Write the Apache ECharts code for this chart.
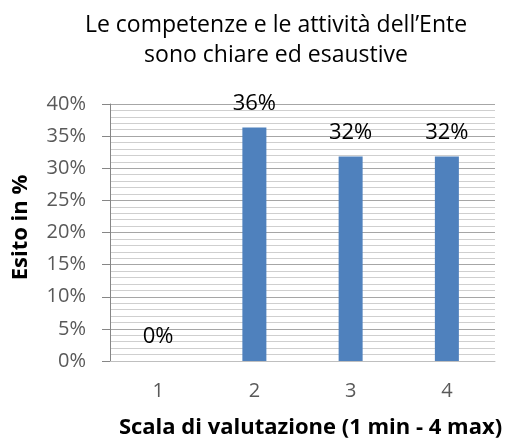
<!DOCTYPE html>
<html>
    <head>
        <meta charset="UTF-8">
        <title></title>
        <script type="text/javascript" src="https://cdn.jsdelivr.net/npm/echarts@6/dist/echarts.min.js"></script>
    </head>
    <body style="margin:0;">
        <div id="main" style="width: 511px;height:444px;"></div>
    </body>
</html>
<script type="text/javascript">
        // dati
        var categorie = ['1', '2', '3', '4'];
        var valori = [0, 36.36, 31.82, 31.82];
        var etichette = ['0%', '36%', '32%', '32%'];

        var myChart = echarts.init(document.getElementById('main'));
        var font = '"Open Sans", sans-serif';

        option = {
                animation: false,
                title: {
                        text: 'Le competenze e le attività dell\u2019Ente\nsono chiare ed esaustive',
                        left: 276,
                        top: 10,
                        padding: 0,
                        textAlign: 'center',
                        textStyle: {
                                fontFamily: font,
                                fontSize: 23,
                                fontWeight: 'normal',
                                color: '#000',
                                lineHeight: 30
                        }
                },
                grid: {
                        left: 110,
                        right: 16,
                        top: 104,
                        bottom: 82
                },
                xAxis: {
                        type: 'category',
                        data: categorie,
                        name: 'Scala di valutazione (1 min - 4 max)',
                        nameLocation: 'middle',
                        nameGap: 56,
                        nameTextStyle: {
                                fontFamily: font,
                                fontSize: 22,
                                fontWeight: 'bold',
                                color: '#000',
                                padding: [0, 0, 0, 16]
                        },
                        axisLine: {
                                lineStyle: { color: '#bfbfbf', width: 1 }
                        },
                        axisTick: { show: false },
                        axisLabel: {
                                margin: 20,
                                fontFamily: font,
                                fontSize: 20,
                                color: '#595959'
                        }
                },
                yAxis: {
                        type: 'value',
                        min: 0,
                        max: 40,
                        interval: 5,
                        name: 'Esito in %',
                        nameLocation: 'middle',
                        nameRotate: 90,
                        nameGap: 78,
                        nameTextStyle: {
                                fontFamily: font,
                                fontSize: 22,
                                fontWeight: 'bold',
                                color: '#000',
                                padding: [0, 0, 0, 10]
                        },
                        axisLine: {
                                show: true,
                                lineStyle: { color: '#868686', width: 1 }
                        },
                        axisTick: {
                                show: true,
                                length: 8,
                                lineStyle: { color: '#868686' }
                        },
                        axisLabel: {
                                margin: 24,
                                fontFamily: font,
                                fontSize: 20,
                                color: '#595959',
                                formatter: '{value}%'
                        },
                        splitLine: {
                                lineStyle: { color: '#a6a6a6', width: 1 }
                        },
                        minorTick: { show: false, splitNumber: 5 },
                        minorSplitLine: {
                                show: true,
                                lineStyle: { color: '#cfcfcf', width: 1 }
                        }
                },
                series: [{
                        type: 'bar',
                        data: valori,
                        barWidth: 24,
                        itemStyle: { color: '#4f81bd' },
                        label: {
                                show: true,
                                position: 'top',
                                distance: 13,
                                fontFamily: font,
                                fontSize: 22,
                                color: '#000',
                                formatter: function(p) {
                                        return etichette[p.dataIndex];
                                }
                        }
                }]
        };
        myChart.setOption(option);
</script>
